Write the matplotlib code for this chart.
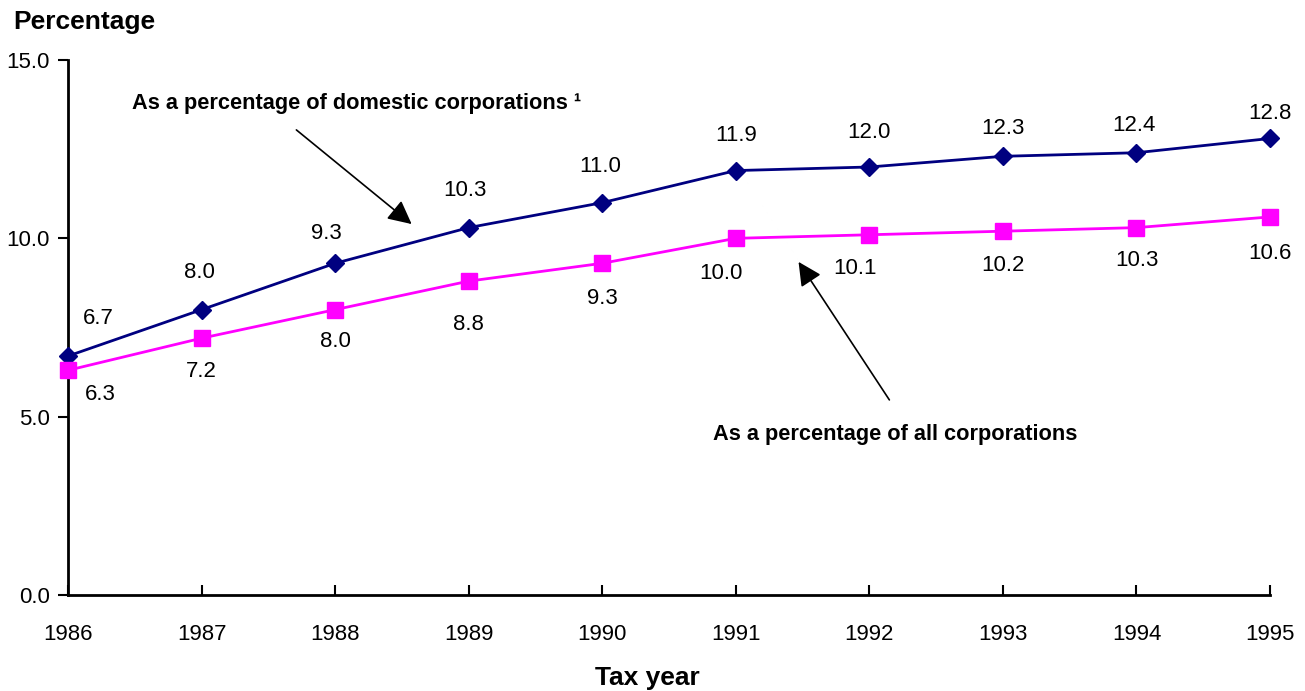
import matplotlib
matplotlib.use("Agg")
import matplotlib.pyplot as plt

plt.rcParams['font.family'] = ['Liberation Sans', 'DejaVu Sans']

years = [1986, 1987, 1988, 1989, 1990, 1991, 1992, 1993, 1994, 1995]
domestic = [6.7, 8.0, 9.3, 10.3, 11.0, 11.9, 12.0, 12.3, 12.4, 12.8]
all_corps = [6.3, 7.2, 8.0, 8.8, 9.3, 10.0, 10.1, 10.2, 10.3, 10.6]
yticks = [0.0, 5.0, 10.0, 15.0]

# label offsets in pixels (dx, dy)
dom_off = [(30, 38), (-2, 37), (-9, 30), (-4, 37), (-2, 36), (0, 35), (0, 35), (0, 28), (-3, 27), (0, 25)]
all_off = [(32, -24), (0, -33), (0, -32), (0, -43), (0, -35), (-15, -35), (-14, -34), (0, -34), (0, -33), (0, -37)]

fig = plt.figure(figsize=(13.05, 6.91), dpi=100)
ax = fig.add_axes([68/1305, 96/691, 1202/1305, 535/691])

ax.plot(years, domestic, color='#000080', lw=2, marker='D', markersize=9.5, zorder=3, clip_on=False)
ax.plot(years, all_corps, color='#FF00FF', lw=2, marker='s', markersize=11, zorder=3, clip_on=False)

FS = 16
for x, y, (dx, dy) in zip(years, domestic, dom_off):
    ax.annotate(f"{y:.1f}", (x, y), xytext=(dx, dy), textcoords='offset pixels',
                ha='center', va='center', fontsize=FS, color='black')
for x, y, (dx, dy) in zip(years, all_corps, all_off):
    ax.annotate(f"{y:.1f}", (x, y), xytext=(dx, dy), textcoords='offset pixels',
                ha='center', va='center', fontsize=FS, color='black')

ax.set_xlim(1986, 1995)
ax.set_ylim(0, 15)
ax.set_xticks(years)
ax.set_xticklabels([str(y) for y in years])
ax.set_yticks(yticks)
ax.set_yticklabels([f"{v:.1f}" for v in yticks])

for s in ['top', 'right']:
    ax.spines[s].set_visible(False)
for s in ['left', 'bottom']:
    ax.spines[s].set_linewidth(2)

ax.tick_params(axis='x', direction='in', length=7, width=1.5, pad=21, labelsize=FS)
ax.tick_params(axis='y', direction='out', length=7, width=1.5, pad=6, labelsize=FS)

# annotation texts
ax.text(1988.16, 13.79, "As a percentage of domestic corporations \u00b9", ha='center', va='center',
        fontsize=15.7, fontweight='bold')
ax.text(1992.19, 4.49, "As a percentage of all corporations", ha='center', va='center',
        fontsize=15.7, fontweight='bold')
# arrows
ax.annotate("", xy=(1988.573, 10.40), xytext=(1987.71, 13.04),
            arrowprops=dict(arrowstyle='-|>', color='black', lw=1.2, mutation_scale=36,
                            shrinkA=0, shrinkB=0))
ax.annotate("", xy=(1991.47, 9.34), xytext=(1992.15, 5.47),
            arrowprops=dict(arrowstyle='-|>', color='black', lw=1.2, mutation_scale=36,
                            shrinkA=0, shrinkB=0))

fig.text(13/1305, 1 - 22/691, "Percentage", ha='left', va='center', fontsize=19, fontweight='bold')
fig.text(647/1305, 1 - 678/691, "Tax year", ha='center', va='center', fontsize=19, fontweight='bold')

fig.savefig("out.png", dpi=100)
